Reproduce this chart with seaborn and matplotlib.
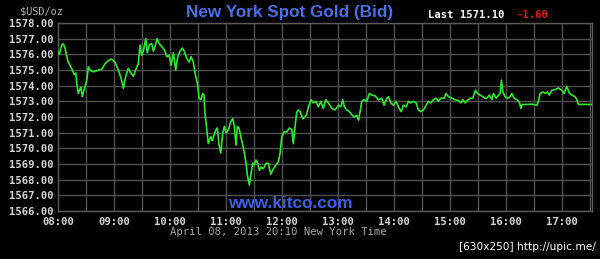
import matplotlib
matplotlib.use("Agg")
import matplotlib.pyplot as plt
import seaborn as sns
import pandas as pd

# minutes after 08:00 (New York time)
minutes = [0, 1.4, 4.0, 5.7, 7.5, 10.4, 12.9, 15.3, 17.5, 19.0, 20.4, 21.7, 23.6, 24.6, 26.0, 28.2,
           30.8, 32.5, 34.3, 36.8, 39.6, 43.2, 46.8, 50.4, 53.9, 56.8, 59.2, 61.1, 64.6, 67.5, 70.0,
           72.5, 75.3, 78.2, 80.7, 83.2, 86.0, 87.9, 89.7, 91.4, 94.0, 95.7, 97.8, 100.4, 102.1,
           103.9, 106.1, 108.2, 111.1, 113.9, 116.5, 118.9, 121.1, 123.5, 126.1, 128.2, 130.7,
           133.2, 135.3, 137.9, 140.4, 142.5, 145.0, 146.8, 149.7, 151.1, 153.2, 155.0, 156.4,
           157.5, 159.3, 161.0, 163.6, 165.3, 167.1, 169.3, 170.7, 172.5, 174.3, 176.5, 178.2,
           180.0, 182.5, 185.0, 187.2, 188.9, 190.7, 192.1, 193.9, 195.8, 197.9, 199.6, 201.4,
           202.8, 205.0, 206.8, 208.6, 210.3, 212.1, 214.0, 215.7, 217.5, 220.0, 222.9, 225.3,
           227.9, 230.7, 233.6, 236.0, 237.9, 239.7, 242.1, 245.0, 247.8, 250.4, 252.1, 253.9,
           255.7, 257.5, 259.3, 262.2, 264.6, 266.5, 268.2, 271.1, 273.5, 276.4, 278.9, 281.5,
           284.2, 286.8, 289.6, 293.3, 296.8, 300.3, 302.9, 305.0, 306.8, 309.3, 312.1, 314.7,
           317.1, 320.0, 321.8, 323.6, 325.4, 327.9, 330.8, 333.5, 336.1, 339.6, 343.2, 346.8,
           349.3, 352.2, 353.9, 356.5, 359.3, 362.1, 364.6, 367.5, 370.0, 372.9, 375.3, 377.9,
           380.7, 383.6, 386.0, 388.6, 391.4, 394.3, 396.8, 399.3, 402.1, 405.0, 407.5, 410.0,
           413.6, 415.7, 418.2, 421.8, 425.4, 428.9, 431.5, 433.6, 436.1, 438.5, 441.4, 444.3,
           447.1, 449.3, 452.1, 455.0, 456.8, 459.3, 462.1, 464.7, 466.4, 469.3, 471.8, 473.6,
           475.0, 476.5, 478.9, 481.8, 484.3, 486.1, 488.6, 491.5, 494.2, 495.8, 497.1, 502.2,
           507.5, 512.9, 514.6, 516.4, 519.3, 522.1, 524.2, 526.4, 528.9, 532.5, 536.0, 539.7,
           542.1, 545.0, 547.5, 550.4, 553.9, 555.8, 557.5, 566.5, 571.9]

bid = [1576.17, 1576.0, 1576.6, 1576.66, 1576.4, 1575.6, 1575.3, 1575.0, 1574.7, 1574.8, 1574.0,
       1573.5, 1573.8, 1573.9, 1573.3, 1573.8, 1574.35, 1575.2, 1575.0, 1574.9, 1574.9, 1575.0,
       1575.05, 1575.4, 1575.6, 1575.7, 1575.6, 1575.5, 1575.0, 1574.5, 1573.83, 1574.6, 1575.1,
       1574.8, 1574.6, 1575.0, 1575.4, 1576.6, 1575.95, 1576.2, 1577.0, 1576.1, 1576.6, 1576.7,
       1576.2, 1576.5, 1577.0, 1576.7, 1576.5, 1576.3, 1575.85, 1575.95, 1575.3, 1576.1, 1575.0,
       1575.85, 1576.2, 1576.4, 1576.2, 1575.75, 1575.5, 1575.85, 1575.5, 1574.8, 1574.0, 1573.2,
       1573.1, 1573.5, 1573.4, 1572.2, 1571.2, 1570.3, 1570.75, 1570.5, 1570.85, 1571.2, 1571.3,
       1570.2, 1569.7, 1571.0, 1571.4, 1571.0, 1571.2, 1571.7, 1571.9, 1571.4, 1570.2, 1571.4,
       1571.3, 1570.75, 1570.2, 1569.7, 1569.05, 1568.3, 1567.65, 1568.4, 1569.05, 1568.95,
       1569.25, 1569.05, 1568.6, 1568.8, 1568.7, 1569.05, 1569.05, 1568.35, 1568.7, 1568.95,
       1569.15, 1569.7, 1570.75, 1571.05, 1571.05, 1571.3, 1571.2, 1570.3, 1571.4, 1572.3,
       1572.45, 1572.35, 1571.9, 1572.0, 1572.2, 1572.65, 1573.1, 1572.9, 1573.0, 1572.65,
       1573.0, 1572.55, 1573.1, 1572.9, 1572.55, 1572.45, 1572.75, 1572.65, 1573.1, 1572.65,
       1572.45, 1572.35, 1572.15, 1572.0, 1572.1, 1571.8, 1572.35, 1573.0, 1573.1, 1573.0,
       1573.5, 1573.4, 1573.35, 1573.1, 1573.2, 1572.75, 1573.2, 1573.3, 1572.9, 1572.75,
       1573.0, 1572.65, 1572.35, 1572.75, 1572.65, 1573.0, 1572.9, 1573.0, 1572.9, 1572.45,
       1572.35, 1572.45, 1572.75, 1573.0, 1572.9, 1573.1, 1573.2, 1573.0, 1573.2, 1573.2,
       1573.5, 1573.3, 1573.2, 1573.1, 1573.05, 1572.9, 1573.1, 1572.9, 1573.05, 1573.2,
       1573.2, 1573.7, 1573.5, 1573.4, 1573.3, 1573.2, 1573.2, 1573.4, 1573.1, 1573.5, 1573.2,
       1573.4, 1573.5, 1574.35, 1573.6, 1573.3, 1573.2, 1573.3, 1573.5, 1573.2, 1573.1, 1572.95,
       1572.55, 1572.8, 1572.8, 1572.82, 1572.75, 1573.0, 1573.5, 1573.6, 1573.5, 1573.6,
       1573.4, 1573.7, 1573.75, 1573.85, 1573.7, 1573.5, 1573.95, 1573.55, 1573.4, 1573.3,
       1573.1, 1572.8, 1572.8, 1572.8]

hour_labels = ["08:00", "09:00", "10:00", "11:00", "12:00", "13:00", "14:00", "15:00", "16:00", "17:00"]
price_ticks = [1566, 1567, 1568, 1569, 1570, 1571, 1572, 1573, 1574, 1575, 1576, 1577, 1578]

title = "New York Spot Gold (Bid)"
last_label = "Last 1571.10"
change_label = "-1.60"
caption = "April 08, 2013 20:10 New York Time"
unit_label = "$USD/oz"
watermark = "www.kitco.com"
upic = "[630x250] http://upic.me/"

sns.set_theme(style="dark")
plt.rcParams["font.family"] = ["DejaVu Sans"]

df = pd.DataFrame({"minutes": minutes, "bid": bid})

fig = plt.figure(figsize=(6.0, 2.59), dpi=100, facecolor="black")
ax = fig.add_axes([58 / 600, 1 - 211 / 259, (592 - 58) / 600, (211 - 23) / 259])
ax.set_facecolor("black")

grid_col = "#505050"
for m in range(30, 572, 30):
    ax.axvline(m, color=grid_col, lw=1.0, zorder=1)
for p in price_ticks:
    ax.axhline(p, color=grid_col, lw=1.0, zorder=1)

sns.lineplot(data=df, x="minutes", y="bid", ax=ax, color="#2ee82e", lw=1.2, zorder=3)

ax.set_xlim(0, 572)
ax.set_ylim(1566, 1578)
ax.grid(False)
ax.set_xticks([i * 60 for i in range(len(hour_labels))])
ax.set_xticklabels(hour_labels)
ax.set_yticks(price_ticks)
ax.set_yticklabels([f"{p:.2f}" for p in price_ticks])
ax.set_xlabel("")
ax.set_ylabel("")
for lab in ax.get_xticklabels() + ax.get_yticklabels():
    lab.set_fontfamily("DejaVu Sans Mono")
    lab.set_fontweight("bold")
    lab.set_fontsize(7.6)
    lab.set_color("#d4d4d4")
ax.tick_params(axis="both", length=0)
ax.tick_params(axis="y", pad=3.5)
ax.tick_params(axis="x", pad=4.0)
for s in ax.spines.values():
    s.set_color("#5a5a5a")
    s.set_linewidth(1.0)

fig.text(290 / 600, 1 - 12 / 259, title, color="#4b6fe6", fontsize=12.3, fontweight="bold",
         family="Liberation Sans", ha="center", va="center")
fig.text(428 / 600, 1 - 15 / 259, last_label, color="white", ha="left", va="center",
         family="DejaVu Sans Mono", weight="bold", size=7.6)
fig.text(517 / 600, 1 - 15 / 259, change_label, color="#ee1111", ha="left", va="center",
         family="DejaVu Sans Mono", weight="bold", size=7.6)
fig.text(20 / 600, 1 - 11 / 259, unit_label, color="#b0b0b0", ha="left", va="center",
         family="DejaVu Sans Mono", size=7.4)
fig.text(170 / 600, 1 - 232 / 259, caption, color="#a8a8a8", ha="left", va="center",
         family="DejaVu Sans Mono", size=7.6)
fig.text(228 / 600, 1 - 204 / 259, watermark, color="#3d5fe6", ha="left", va="center",
         family="Liberation Sans", weight="bold", size=12.4)
fig.text(596 / 600, 1 - 247 / 259, upic, color="white", ha="right", va="center",
         family="DejaVu Sans", size=7.6)

fig.savefig("out.png", dpi=100, facecolor="black")
